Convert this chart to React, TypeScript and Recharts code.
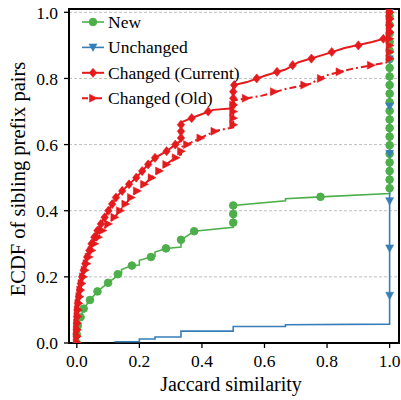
import React from 'react';
import { ComposedChart, Line, Scatter, XAxis, YAxis, CartesianGrid, ReferenceArea, Legend } from 'recharts';

const GREEN = '#4daf4a';
const BLUE = '#377eb8';
const RED = '#e41a1c';
const FONT = 'Liberation Serif';

const xTicks = [0, 0.2, 0.4, 0.6, 0.8, 1.0];
const yTicks = [0, 0.2, 0.4, 0.6, 0.8, 1.0];
const seriesNames = ['New', 'Unchanged', 'Changed (Current)', 'Changed (Old)'];

// New
const newLineX = [0, 0, 0.003, 0.012, 0.022, 0.042, 0.066, 0.1, 0.125, 0.131, 0.143, 0.143, 0.176, 0.2, 0.2, 0.237, 0.25, 0.25, 0.285, 0.333, 0.333, 0.375, 0.5, 0.5, 0.667, 0.667, 0.779, 1, 1];
const newLineY = [0, 0.03, 0.052, 0.078, 0.104, 0.13, 0.156, 0.182, 0.2, 0.208, 0.21, 0.222, 0.234, 0.236, 0.25, 0.26, 0.262, 0.275, 0.286, 0.29, 0.312, 0.338, 0.35, 0.416, 0.43, 0.436, 0.442, 0.452, 1];
const newMarkX = [0, 0, 0.003, 0.012, 0.022, 0.042, 0.066, 0.1, 0.131, 0.176, 0.237, 0.285, 0.333, 0.375, 0.5, 0.5, 0.5, 0.779, 1, 1, 1, 1, 1, 1, 1, 1, 1, 1, 1, 1, 1, 1, 1, 1, 1, 1, 1, 1, 1];
const newMarkY = [0, 0.026, 0.052, 0.078, 0.104, 0.13, 0.156, 0.182, 0.208, 0.234, 0.26, 0.286, 0.312, 0.338, 0.364, 0.39, 0.416, 0.442, 0.468, 0.494, 0.52, 0.546, 0.572, 0.598, 0.624, 0.65, 0.676, 0.702, 0.728, 0.754, 0.78, 0.806, 0.832, 0.858, 0.884, 0.91, 0.936, 0.962, 0.988];

// Unchanged
const unchLineX = [0.12, 0.2, 0.2, 0.25, 0.25, 0.333, 0.333, 0.5, 0.5, 0.667, 0.667, 1, 1];
const unchLineY = [0.004, 0.004, 0.012, 0.012, 0.018, 0.018, 0.036, 0.036, 0.05, 0.05, 0.055, 0.057, 1];
const unchMarkX = [1, 1, 1, 1, 1, 1, 1];
const unchMarkY = [0.143, 0.286, 0.429, 0.572, 0.715, 0.858, 1.0];

// Changed (Current)
const curLineX = [0, 0, 0.002, 0.007, 0.013, 0.022, 0.033, 0.047, 0.066, 0.089, 0.113, 0.125, 0.145, 0.167, 0.19, 0.209, 0.228, 0.25, 0.287, 0.315, 0.333, 0.333, 0.388, 0.436, 0.5, 0.5, 0.544, 0.603, 0.667, 0.709, 0.79, 0.856, 0.944, 1, 1];
const curLineY = [0, 0.06, 0.1, 0.14, 0.18, 0.22, 0.26, 0.3, 0.34, 0.38, 0.42, 0.44, 0.46, 0.48, 0.5, 0.52, 0.54, 0.56, 0.58, 0.6, 0.612, 0.667, 0.688, 0.705, 0.71, 0.779, 0.789, 0.809, 0.827, 0.849, 0.872, 0.892, 0.91, 0.925, 1];
const curMarkX = [0, 0, 0, 0, 0.001, 0.002, 0.004, 0.007, 0.01, 0.013, 0.017, 0.022, 0.027, 0.033, 0.04, 0.047, 0.056, 0.066, 0.077, 0.089, 0.101, 0.113, 0.125, 0.145, 0.167, 0.19, 0.209, 0.228, 0.25, 0.287, 0.315, 0.333, 0.333, 0.333, 0.367, 0.42, 0.5, 0.5, 0.5, 0.503, 0.575, 0.64, 0.69, 0.75, 0.815, 0.9, 0.98, 1, 1, 1, 1];
const curMarkY = [0, 0.02, 0.04, 0.06, 0.08, 0.1, 0.12, 0.14, 0.16, 0.18, 0.2, 0.22, 0.24, 0.26, 0.28, 0.3, 0.32, 0.34, 0.36, 0.38, 0.4, 0.42, 0.44, 0.46, 0.48, 0.5, 0.52, 0.54, 0.56, 0.58, 0.6, 0.62, 0.64, 0.66, 0.68, 0.7, 0.72, 0.74, 0.76, 0.78, 0.8, 0.82, 0.84, 0.86, 0.88, 0.9, 0.92, 0.94, 0.96, 0.98, 1.0];

// Changed (Old)
const oldLineX = [0, 0, 0.003, 0.008, 0.015, 0.025, 0.038, 0.056, 0.082, 0.12, 0.155, 0.192, 0.239, 0.287, 0.325, 0.333, 0.333, 0.357, 0.4, 0.446, 0.5, 0.5, 0.592, 0.667, 0.747, 0.795, 0.88, 1, 1];
const oldLineY = [0, 0.04, 0.1, 0.14, 0.18, 0.22, 0.26, 0.3, 0.34, 0.38, 0.42, 0.46, 0.5, 0.541, 0.567, 0.57, 0.592, 0.602, 0.622, 0.642, 0.652, 0.733, 0.748, 0.768, 0.784, 0.809, 0.829, 0.85, 1];
const oldMarkX = [0, 0, 0, 0.001, 0.002, 0.003, 0.005, 0.008, 0.011, 0.015, 0.02, 0.025, 0.031, 0.038, 0.047, 0.056, 0.068, 0.082, 0.1, 0.12, 0.138, 0.155, 0.173, 0.192, 0.215, 0.239, 0.263, 0.286, 0.316, 0.333, 0.352, 0.395, 0.44, 0.5, 0.5, 0.5, 0.5, 0.54, 0.63, 0.727, 0.78, 0.84, 0.94, 1, 1, 1, 1, 1, 1, 1, 1];
const oldMarkY = [0, 0.02, 0.04, 0.06, 0.08, 0.1, 0.12, 0.14, 0.16, 0.18, 0.2, 0.22, 0.24, 0.26, 0.28, 0.3, 0.32, 0.34, 0.36, 0.38, 0.4, 0.42, 0.44, 0.46, 0.48, 0.5, 0.52, 0.54, 0.56, 0.58, 0.6, 0.62, 0.64, 0.66, 0.68, 0.7, 0.72, 0.74, 0.76, 0.78, 0.8, 0.82, 0.84, 0.86, 0.88, 0.9, 0.92, 0.94, 0.96, 0.98, 1.0];

const zip = (xs: number[], ys: number[]) => xs.map((x, i) => ({ x, y: ys[i] }));

const circle = (cx: number, cy: number, c: string) => <circle cx={cx} cy={cy} r={3.8} fill={c} stroke={c} />;
const triDown = (cx: number, cy: number, c: string) => (
  <path d={`M${cx - 4},${cy - 3.5}L${cx + 4},${cy - 3.5}L${cx},${cy + 4}Z`} fill={c} stroke={c} strokeWidth={0.5} />
);
const diamond = (cx: number, cy: number, c: string) => (
  <path d={`M${cx},${cy - 4.6}L${cx + 3.8},${cy}L${cx},${cy + 4.6}L${cx - 3.8},${cy}Z`} fill={c} stroke={c} strokeWidth={0.5} />
);
const triRight = (cx: number, cy: number, c: string) => (
  <path d={`M${cx + 4.5},${cy}L${cx - 3.5},${cy - 4}L${cx - 3.5},${cy + 4}Z`} fill={c} stroke={c} strokeWidth={0.5} />
);

const series = [
  { name: seriesNames[0], line: zip(newLineX, newLineY), marks: zip(newMarkX, newMarkY), color: GREEN, width: 1.6, dash: undefined as string | undefined, marker: circle },
  { name: seriesNames[1], line: zip(unchLineX, unchLineY), marks: zip(unchMarkX, unchMarkY), color: BLUE, width: 1.6, dash: undefined, marker: triDown },
  { name: seriesNames[2], line: zip(curLineX, curLineY), marks: zip(curMarkX, curMarkY), color: RED, width: 2, dash: undefined, marker: diamond },
  { name: seriesNames[3], line: zip(oldLineX, oldLineY), marks: zip(oldMarkX, oldMarkY), color: RED, width: 2, dash: '7 3 2 3', marker: triRight },
];

const txt = { fontFamily: FONT, fill: '#000' } as React.CSSProperties;

const LegendBox = () => (
  <svg width={220} height={100} style={{ display: 'block' }}>
    {series.map((s, i) => {
      const cy = 12 + i * 25.4;
      return (
        <g key={s.name}>
          <line x1={2} x2={24} y1={cy} y2={cy} stroke={s.color} strokeWidth={s.width} strokeDasharray={s.dash ? '6 3 2 3' : undefined} />
          {s.marker(13, cy, s.color)}
          <text x={28} y={cy + 6} style={{ ...txt, fontSize: 17.5 }}>{s.name}</text>
        </g>
      );
    })}
  </svg>
);

export default function App() {
  return (
    <div style={{ position: 'absolute', left: 0, top: 0, width: 401, height: 400, background: '#fff', fontFamily: FONT }}>
      <ComposedChart width={401} height={400} margin={{ top: 9, right: 2, bottom: 27, left: 19 }} style={{ fontFamily: FONT }}>
        <CartesianGrid vertical={false} stroke="#b0b0b0" strokeDasharray="3 2" strokeWidth={0.8} />
        <XAxis
          dataKey="x"
          type="number"
          domain={[-0.025, 1.03]}
          ticks={xTicks}
          tickFormatter={(v: number) => v.toFixed(1)}
          allowDataOverflow
          axisLine={false}
          tickLine={{ stroke: '#000', strokeWidth: 1.3 }}
          tickSize={5}
          tickMargin={7}
          height={30}
          tick={{ fill: '#000', fontFamily: FONT, fontSize: 17.5, style: { fontFamily: FONT } }}
          label={{
            content: () => (
              <text x={231} y={391} textAnchor="middle" style={{ ...txt, fontSize: 20 }}>Jaccard similarity</text>
            ),
          }}
        />
        <YAxis
          type="number"
          domain={[0, 1.01]}
          ticks={yTicks}
          tickFormatter={(v: number) => v.toFixed(1)}
          allowDataOverflow
          axisLine={false}
          tickLine={{ stroke: '#000', strokeWidth: 1.3 }}
          tickSize={5}
          tickMargin={6}
          width={50}
          tick={{ fill: '#000', fontFamily: FONT, fontSize: 17.5, style: { fontFamily: FONT } }}
          label={{
            content: () => (
              <text x={25} y={179} transform="rotate(-90 25 179)" textAnchor="middle" style={{ ...txt, fontSize: 20.5 }}>ECDF of sibling prefix pairs</text>
            ),
          }}
        />
        {series.map((s) => [
          <Line
            key={s.name + '-l'}
            data={s.line}
            dataKey="y"
            type="linear"
            stroke={s.color}
            strokeWidth={s.width}
            strokeDasharray={s.dash}
            dot={false}
            activeDot={false}
            isAnimationActive={false}
            legendType="none"
          />,
          <Scatter
            key={s.name + '-m'}
            data={s.marks}
            dataKey="y"
            fill={s.color}
            isAnimationActive={false}
            legendType="none"
            shape={(p: any) => s.marker(p.cx, p.cy, s.color)}
          />,
        ])}
        <ReferenceArea x1={-0.025} x2={1.03} y1={0} y2={1.01} fill="none" stroke="#000" strokeWidth={2} ifOverflow="visible" />
        <Legend
          layout="vertical"
          align="center"
          verticalAlign="middle"
          content={() => <LegendBox />}
          wrapperStyle={{ left: 80, top: 10, width: 220, height: 100 }}
        />
      </ComposedChart>
    </div>
  );
}
